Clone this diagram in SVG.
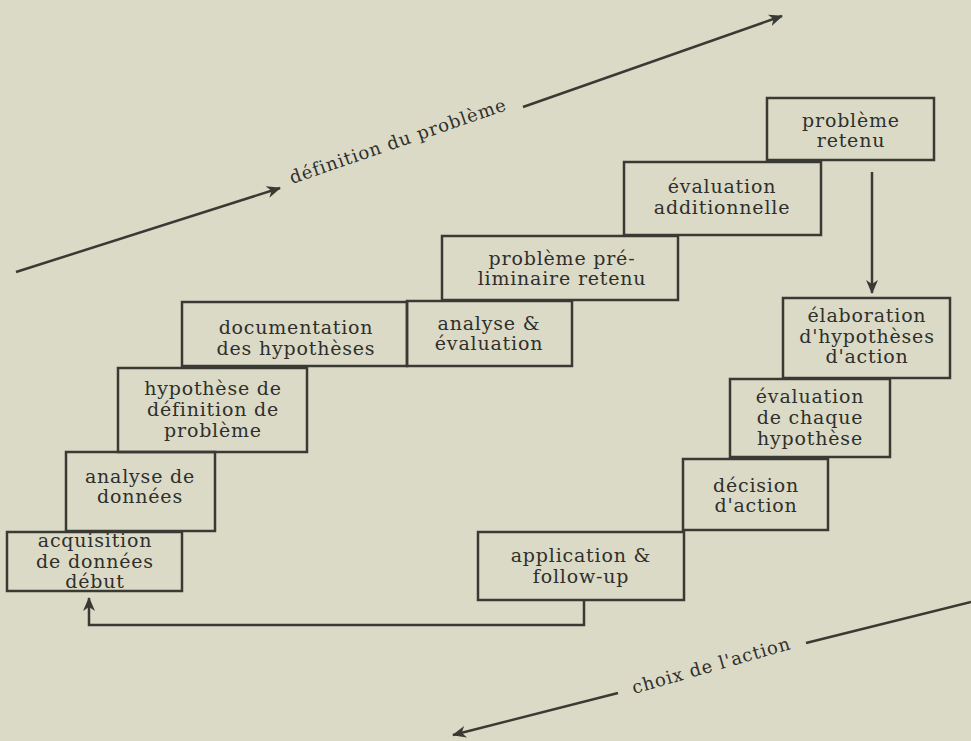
<svg xmlns="http://www.w3.org/2000/svg" width="971" height="741" viewBox="0 0 971 741">
<style>
.box{fill:none;stroke:#3a3a35;stroke-width:2.5}
.t{font-family:"DejaVu Serif","Liberation Serif",serif;font-size:19px;letter-spacing:0.8px;fill:#2f2f2b;text-anchor:middle}
.lbl{font-family:"DejaVu Serif","Liberation Serif",serif;font-size:18px;letter-spacing:0.9px;fill:#2f2f2b}
.ln{fill:none;stroke:#3a3a35;stroke-width:2.5}
</style>
<defs>
<marker id="ah" viewBox="0 0 14 12" refX="13" refY="6" markerWidth="14" markerHeight="12" markerUnits="userSpaceOnUse" orient="auto">
<path d="M0,0 L14,6 L0,12 L4,6 Z" fill="#3a3a35"/>
</marker>
</defs>
<rect width="971" height="741" fill="#dbdac7"/>
<g id="connectors">
<line class="ln" x1="16" y1="272" x2="280" y2="188" marker-end="url(#ah)"/>
<line class="ln" x1="523" y1="107" x2="782" y2="16" marker-end="url(#ah)"/>
<line class="ln" x1="971" y1="602" x2="806" y2="643"/>
<line class="ln" x1="618" y1="693" x2="453" y2="735" marker-end="url(#ah)"/>
<line class="ln" x1="872" y1="172" x2="872" y2="293" marker-end="url(#ah)"/>
<polyline class="ln" points="584,600 584,625 89,625 89,598" marker-end="url(#ah)"/>
<text class="lbl" x="292" y="184" transform="rotate(-19 292 184)">définition du problème</text>
<text class="lbl" x="634" y="694" transform="rotate(-16 634 694)">choix de l'action</text>
</g>
<g id="n-acquisition">
<rect class="box" x="7" y="532" width="175" height="59"/>
<text class="t" x="95" y="547">acquisition</text>
<text class="t" x="95" y="568">de données</text>
<text class="t" x="95" y="588">début</text>
</g>
<g id="n-analyse-donnees">
<rect class="box" x="66" y="452" width="149" height="79"/>
<text class="t" x="140" y="483">analyse de</text>
<text class="t" x="140" y="503">données</text>
</g>
<g id="n-hypothese">
<rect class="box" x="118" y="368" width="189" height="84"/>
<text class="t" x="213" y="395">hypothèse de</text>
<text class="t" x="213" y="416">définition de</text>
<text class="t" x="213" y="437">problème</text>
</g>
<g id="n-documentation">
<rect class="box" x="182" y="302" width="225" height="64"/>
<text class="t" x="296" y="334">documentation</text>
<text class="t" x="296" y="355">des hypothèses</text>
</g>
<g id="n-analyse-evaluation">
<rect class="box" x="407" y="301" width="165" height="65"/>
<text class="t" x="489" y="330">analyse &amp;</text>
<text class="t" x="489" y="350">évaluation</text>
</g>
<g id="n-probleme-preliminaire">
<rect class="box" x="442" y="236" width="236" height="64"/>
<text class="t" x="562" y="265">problème pré-</text>
<text class="t" x="562" y="285">liminaire retenu</text>
</g>
<g id="n-evaluation-add">
<rect class="box" x="624" y="162" width="197" height="73"/>
<text class="t" x="722" y="193">évaluation</text>
<text class="t" x="722" y="214">additionnelle</text>
</g>
<g id="n-probleme-retenu">
<rect class="box" x="767" y="98" width="167" height="62"/>
<text class="t" x="851" y="127">problème</text>
<text class="t" x="851" y="147">retenu</text>
</g>
<g id="n-elaboration">
<rect class="box" x="783" y="298" width="167" height="80"/>
<text class="t" x="867" y="322">élaboration</text>
<text class="t" x="867" y="343">d'hypothèses</text>
<text class="t" x="867" y="363">d'action</text>
</g>
<g id="n-evaluation-chaque">
<rect class="box" x="730" y="379" width="160" height="78"/>
<text class="t" x="810" y="403">évaluation</text>
<text class="t" x="810" y="424">de chaque</text>
<text class="t" x="810" y="445">hypothèse</text>
</g>
<g id="n-decision">
<rect class="box" x="683" y="459" width="145" height="71"/>
<text class="t" x="756" y="492">décision</text>
<text class="t" x="756" y="512">d'action</text>
</g>
<g id="n-application">
<rect class="box" x="478" y="532" width="206" height="68"/>
<text class="t" x="581" y="562">application &amp;</text>
<text class="t" x="581" y="583">follow-up</text>
</g>
</svg>
